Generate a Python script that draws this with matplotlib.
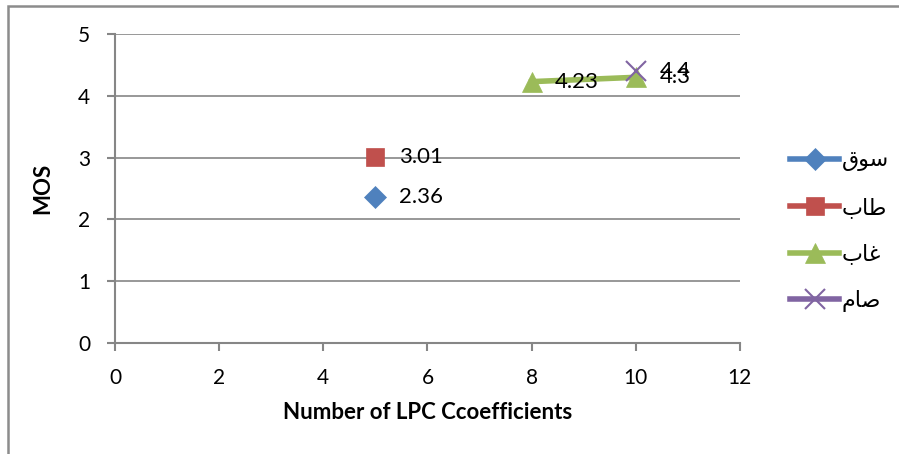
import matplotlib
matplotlib.use('Agg')
import matplotlib.pyplot as plt
from matplotlib.patches import Rectangle

plt.rcParams['font.family'] = ['Lato', 'DejaVu Sans']

# series names and points (x = number of LPC coefficients, y = MOS)
names = ["سوق", "طاب", "غاب", "صام"]
souq_x, souq_y = [5], [2.36]
taab_x, taab_y = [5], [3.01]
ghaab_x, ghaab_y = [8, 10], [4.23, 4.3]
saam_x, saam_y = [10], [4.4]

xticks = [0, 2, 4, 6, 8, 10, 12]
yticks = [0, 1, 2, 3, 4, 5]

colors = ['#4F81BD', '#C0504D', '#9BBB59', '#8064A2']
markers = ['D', 's', '^', 'x']

# tiny arabic shaper: (isolated, final, initial, medial), joins to next letter
FORMS = {
    'س': ('\uFEB1', '\uFEB2', '\uFEB3', '\uFEB4', True),
    'و': ('\uFEED', '\uFEEE', '\uFEED', '\uFEEE', False),
    'ق': ('\uFED5', '\uFED6', '\uFED7', '\uFED8', True),
    'ط': ('\uFEC1', '\uFEC2', '\uFEC3', '\uFEC4', True),
    'ا': ('\uFE8D', '\uFE8E', '\uFE8D', '\uFE8E', False),
    'ب': ('\uFE8F', '\uFE90', '\uFE91', '\uFE92', True),
    'غ': ('\uFECD', '\uFECE', '\uFECF', '\uFED0', True),
    'ص': ('\uFEB9', '\uFEBA', '\uFEBB', '\uFEBC', True),
    'م': ('\uFEE1', '\uFEE2', '\uFEE3', '\uFEE4', True),
}

def shape(word):
    out = []
    for i, ch in enumerate(word):
        prev_joins = i > 0 and FORMS[word[i - 1]][4]
        next_joins = FORMS[ch][4] and i < len(word) - 1
        iso, fin, ini, med, _ = FORMS[ch]
        if prev_joins and next_joins:
            out.append(med)
        elif prev_joins:
            out.append(fin)
        elif next_joins:
            out.append(ini)
        else:
            out.append(iso)
    return ''.join(reversed(out))

fig = plt.figure(figsize=(8.99, 4.54), dpi=100)
ax = fig.add_axes([0.128, 0.2445, 0.695, 0.6805])

# outer chart frame
fig.patches.append(Rectangle((8 / 899, -0.1), 1.2, 1 - 6 / 454 + 0.1,
                             transform=fig.transFigure, fill=False,
                             edgecolor='#8c8c8c', linewidth=1.8, zorder=0))

series = [(souq_x, souq_y), (taab_x, taab_y), (ghaab_x, ghaab_y), (saam_x, saam_y)]
sizes = [11, 13, 14, 14]
handles = []
for i, (xs, ys) in enumerate(series):
    h, = ax.plot(xs, ys, color=colors[i], marker=markers[i], markersize=sizes[i],
                 linewidth=4, markeredgewidth=1.5 if markers[i] == 'x' else 0.5,
                 markeredgecolor=colors[i], label=shape(names[i]), zorder=3 + i,
                 clip_on=False)
    handles.append(h)
    for x, y in zip(xs, ys):
        ax.annotate(f"{y:g}", (x, y), xytext=(17, 0), textcoords='offset points',
                    ha='left', va='center', fontsize=16, zorder=10)

ax.set_xlim(0, 12)
ax.set_ylim(0, 5)
ax.set_xticks(xticks)
ax.set_yticks(yticks)
ax.tick_params(labelsize=15, length=6, width=1.5, color='#868686')
ax.tick_params(axis='x', pad=12)
ax.tick_params(axis='y', pad=12)
ax.grid(axis='y', color='#868686', linewidth=1.2)
ax.set_axisbelow(True)
for s in ['top', 'right']:
    ax.spines[s].set_visible(False)
for s in ['left', 'bottom']:
    ax.spines[s].set_color('#868686')
    ax.spines[s].set_linewidth(1.5)

ax.set_xlabel("Number of LPC Ccoefficients", fontsize=16, fontweight='bold', labelpad=10)
ax.set_ylabel("MOS", fontsize=16, fontweight='bold', labelpad=18)

leg = fig.legend(handles=handles, loc='center left', bbox_to_anchor=(0.857, 0.491),
                 frameon=False, handlelength=2.2, handletextpad=0.1,
                 labelspacing=1.15, prop={'family': 'DejaVu Sans', 'size': 16})

fig.savefig('out.png', dpi=100)
